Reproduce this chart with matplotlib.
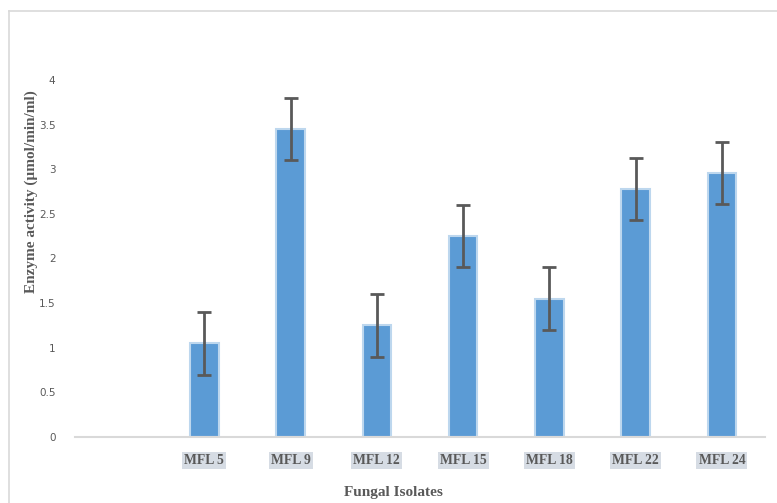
import numpy as np
import matplotlib.pyplot as plt
from matplotlib.lines import Line2D

# Данные с графика
isolates = ['MFL 5', 'MFL 9', 'MFL 12', 'MFL 15', 'MFL 18', 'MFL 22', 'MFL 24']
activity = [1.05, 3.45, 1.25, 2.25, 1.55, 2.78, 2.96]
errors = [0.35, 0.35, 0.35, 0.35, 0.35, 0.35, 0.35]
y_ticks = [0, 0.5, 1, 1.5, 2, 2.5, 3, 3.5, 4]
y_tick_labels = ['0', '0.5', '1', '1.5', '2', '2.5', '3', '3.5', '4']

fig = plt.figure(figsize=(7.77, 5.03), dpi=100)
ax = fig.add_axes([0.0965, 0.1312, 0.888, 0.7098])

# первая позиция пустая, как в оригинале
x = np.arange(1, len(isolates) + 1)
ax.bar(x, activity, width=0.33, color='#5b9bd5', edgecolor='#bdd7ee', linewidth=1.5, zorder=2)
ax.errorbar(x, activity, yerr=errors, fmt='none', ecolor='#595959',
            elinewidth=2, capsize=5, capthick=2, zorder=3)

ax.set_xlim(-0.5, len(isolates) + 0.5)
ax.set_ylim(0, 4)
ax.set_yticks(y_ticks)
ax.set_yticklabels(y_tick_labels, fontsize=7.5, color='#595959', family='DejaVu Sans')
ax.set_xticks(x)
ax.set_xticklabels(isolates, fontsize=9.8, color='#595959', family='Liberation Serif',
                   fontweight='bold')
for lbl in ax.get_xticklabels():
    lbl.set_bbox(dict(facecolor='#d6dce4', edgecolor='none', pad=1.5))
ax.tick_params(axis='both', length=0)
ax.tick_params(axis='x', pad=12)
ax.tick_params(axis='y', pad=14)

for side in ['top', 'right', 'left']:
    ax.spines[side].set_visible(False)
ax.spines['bottom'].set_color('#d9d9d9')
ax.spines['bottom'].set_linewidth(1.5)

ax.set_xlabel('Fungal Isolates', fontsize=11, color='#595959', family='Liberation Serif',
              fontweight='bold')
ax.xaxis.set_label_coords(0.461, -0.137)
ax.set_ylabel('Enzyme activity (µmol/min/ml)', fontsize=11, color='#595959',
              family='Liberation Serif', fontweight='bold')
ax.yaxis.set_label_coords(-0.054, 0.686)

# рамка области диаграммы
fx0, fy0 = 9 / 777, 1 - 11 / 503
fig.add_artist(Line2D([fx0, 1], [fy0, fy0], color='#d9d9d9', linewidth=1.2))
fig.add_artist(Line2D([fx0, fx0], [0, fy0], color='#d9d9d9', linewidth=1.2))

fig.savefig('out.png', dpi=100)
